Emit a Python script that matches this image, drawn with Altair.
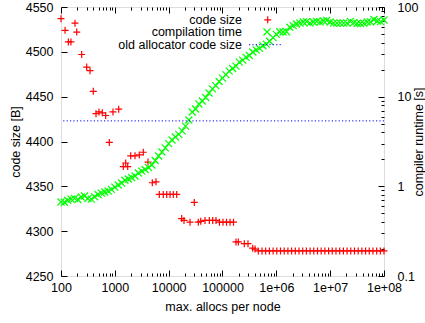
import altair as alt
import pandas as pd

FONT = "Liberation Sans"
FS = 12.5

# ---- data ----
red_x = [100, 119, 137, 153, 182, 196, 242, 300, 346, 398,
         447, 508, 585, 677, 789, 924, 1180, 1436, 1592, 1734,
         1971, 2370, 2849, 3383, 4131, 4966, 5821, 6700, 7950, 9200,
         10600, 12200, 14100, 17460, 19270, 24900, 29920, 35540, 39380, 47300,
         56900, 65800, 75700, 87900, 102200, 118700, 137900, 160200, 178200, 196700,
         254000, 297700, 363900, 401800,
         462000, 542000, 634000, 743000, 871000, 1020000, 1195000, 1400000, 1640000, 1923000,
         2250000, 2637000, 3090000, 3616000, 4236000, 4966000, 5821000, 6808000, 7980000, 9354000,
         10940000, 12820000, 15030000, 17620000, 20610000, 24150000, 28310000, 33110000, 38810000, 45500000,
         53210000, 62370000, 73110000, 85510000, 100000000]
red_y = [4537, 4524, 4511, 4511, 4532, 4522, 4497, 4483, 4479, 4456,
         4431, 4433, 4432, 4429, 4399, 4433, 4436, 4372, 4376, 4372,
         4384, 4384, 4385, 4388, 4377, 4354, 4355, 4341, 4341, 4341,
         4341, 4341, 4341, 4314, 4312, 4310, 4332, 4310, 4311, 4312,
         4312, 4312, 4312, 4310, 4310, 4310, 4310, 4310, 4288, 4288,
         4286, 4286, 4281, 4280,
         4278, 4278, 4278, 4278, 4278, 4278, 4278, 4278, 4278, 4278,
         4278, 4278, 4278, 4278, 4278, 4278, 4278, 4278, 4278, 4278,
         4278, 4278, 4278, 4278, 4278, 4278, 4278, 4278, 4278, 4278,
         4278, 4278, 4278, 4278, 4278]

green_x = [100, 115.5, 133.4, 154, 177.8, 205.4, 237.1, 273.8, 316.2, 365.2, 421.7, 487, 562.3, 649.4, 749.9, 866,
           1000, 1155, 1334, 1540, 1778, 2054, 2371, 2738, 3162, 3652, 4217, 4870, 5623, 6494, 7499, 8660,
           1.0e4, 1.155e4, 1.334e4, 1.540e4, 1.778e4, 2.054e4, 2.371e4, 2.738e4, 3.162e4, 3.652e4, 4.217e4, 4.870e4, 5.623e4, 6.494e4, 7.499e4, 8.660e4,
           1.0e5, 1.155e5, 1.334e5, 1.540e5, 1.778e5, 2.054e5, 2.371e5, 2.738e5, 3.162e5, 3.652e5, 4.217e5, 4.870e5, 5.623e5, 6.494e5, 7.499e5, 8.660e5,
           1.0e6, 1.155e6, 1.334e6, 1.540e6, 1.778e6, 2.054e6, 2.371e6, 2.738e6, 3.162e6, 3.652e6, 4.217e6, 4.870e6, 5.623e6, 6.494e6, 7.499e6, 8.660e6,
           1.0e7, 1.155e7, 1.334e7, 1.540e7, 1.778e7, 2.054e7, 2.371e7, 2.738e7, 3.162e7, 3.652e7, 4.217e7, 4.870e7, 5.623e7, 6.494e7, 7.499e7, 8.660e7,
           1.0e8]
green_y = [0.669, 0.665, 0.70, 0.72, 0.735, 0.714, 0.76, 0.78, 0.73, 0.72,
           0.766, 0.81, 0.84, 0.865, 0.887, 0.925, 0.98, 1.035, 1.09, 1.168,
           1.207, 1.255, 1.303, 1.41, 1.48, 1.54, 1.62, 1.73, 1.94, 2.18,
           2.415, 2.68, 3.0, 3.29, 3.55, 3.79, 4.15, 4.7, 5.49, 6.74,
           7.28, 8.28, 8.95, 9.8, 11.0, 12.2, 13.3, 14.75, 16.1, 17.6,
           19.3, 20.6, 21.9, 24.3, 25.6, 27.4, 28.8, 31.5, 33.3, 34.5,
           37, 38.6, 41.5, 45.5, 49.5, 53, 52.6, 53, 59.5, 62,
           64.6, 66, 68, 68.7, 66, 68, 69, 68, 69.8, 70.8,
           68, 66, 66, 66, 66, 66, 69, 67, 65.5, 65.5,
           66, 68, 68, 72.5, 69.8, 68.7, 71.6]
old_alloc = [4423]

legend_labels = ["code size", "compilation time", "old allocator code size"]
x_major = [1e2, 1e3, 1e4, 1e5, 1e6, 1e7, 1e8]
x_minor = [m * 10 ** e for e in range(2, 8) for m in range(2, 10)]
y_left_ticks = [4250, 4300, 4350, 4400, 4450, 4500, 4550]
y_right_major = [0.1, 1, 10, 100]
y_right_minor = [m * 10.0 ** e for e in range(-1, 2) for m in range(2, 10)]

red = pd.DataFrame({"x": red_x, "y": red_y})
green = pd.DataFrame({"x": green_x, "y": green_y})
old = pd.DataFrame({"y": old_alloc})
one = pd.DataFrame({"k": [0]})

PLUS = "M-1,0L1,0M0,-1L0,1"
CROSS = "M-1,-1L1,1M-1,1L1,-1"
RED, GREEN, BLUE = "#ff0000", "#00ff00", "#0000ff"
MSIZE = 49
MSW = 1.2

W, H = 323, 269


def xs():
    return alt.Scale(type="log", domain=[100, 1e8], nice=False)


def ycs():
    return alt.Scale(domain=[4250, 4550], nice=False, zero=False)


def yrt():
    return alt.Scale(type="log", domain=[0.1, 100], nice=False)


tk = dict(domain=False, grid=False, tickColor="black", tickWidth=1, labelFlush=False,
          labelOverlap=False, labelFont=FONT, labelFontSize=FS, labelColor="black",
          titleFont=FONT, titleFontSize=FS, titleColor="black", titleFontWeight="normal")

ax_x_bottom = alt.Axis(orient="bottom", values=x_major, offset=-6, tickSize=6, labelPadding=5,
                       labelExpr="datum.value < 1e6 ? format(datum.value, 'd') : '1e+0' + format(log(datum.value)/LN10, '.0f')",
                       title="max. allocs per node", titleX=W / 2, titleY=40.7, titleAlign="center",
                       titleBaseline="alphabetic", **tk)
ax_x_top = alt.Axis(orient="top", values=x_major, offset=-6, tickSize=6, labels=False, title=None, **tk)
ax_x_bottom_minor = alt.Axis(orient="bottom", values=x_minor, offset=-3, tickSize=3, labels=False, title=None, **tk)
ax_x_top_minor = alt.Axis(orient="top", values=x_minor, offset=-3, tickSize=3, labels=False, title=None, **tk)

ax_y_left = alt.Axis(orient="left", values=y_left_ticks, offset=-6, tickSize=6, labelPadding=8, format="d",
                     title="code size [B]", titleX=-52, titleY=H / 2, titleAngle=270, titleAlign="center",
                     titleBaseline="middle", **tk)
ax_y_right = alt.Axis(orient="right", values=y_right_major, offset=-6, tickSize=6, labelPadding=13,
                      labelExpr="format(datum.value, '~g')",
                      title="compiler runtime [s]", titleX=40.5, titleY=H / 2, titleAngle=270, titleAlign="center",
                      titleBaseline="middle", **tk)
ax_y_right_minor = alt.Axis(orient="right", values=y_right_minor, offset=-3, tickSize=3, labels=False, title=None, **tk)

red_layer = alt.Chart(red).mark_point(shape=PLUS, filled=False, stroke=RED, strokeWidth=MSW, size=MSIZE, opacity=1).encode(
    x=alt.X("x:Q", scale=xs(), axis=ax_x_bottom),
    y=alt.Y("y:Q", scale=ycs(), axis=ax_y_left),
)
green_layer = alt.Chart(green).mark_point(shape=CROSS, filled=False, stroke=GREEN, strokeWidth=MSW, size=MSIZE, opacity=1).encode(
    x=alt.X("x:Q", scale=xs(), axis=ax_x_top),
    y=alt.Y("y:Q", scale=yrt(), axis=ax_y_right),
)
old_layer = alt.Chart(old).mark_rule(stroke=BLUE, strokeWidth=1, strokeDash=[1.2, 2.2]).encode(
    y=alt.Y("y:Q", scale=ycs(), axis=None),
)
minor1 = alt.Chart(green).mark_point(opacity=0).encode(
    x=alt.X("x:Q", scale=xs(), axis=ax_x_bottom_minor),
    y=alt.Y("y:Q", scale=yrt(), axis=ax_y_right_minor),
)
minor2 = alt.Chart(green).mark_point(opacity=0).encode(
    x=alt.X("x:Q", scale=xs(), axis=ax_x_top_minor),
    y=alt.Y("y:Q", scale=yrt(), axis=None),
)

leg_rows = [13, 25.3, 37.6]
leg_texts = [
    alt.Chart(one).mark_text(align="right", baseline="middle", font=FONT, fontSize=FS, color="black",
                             text=lab).encode(x=alt.value(181), y=alt.value(yy))
    for lab, yy in zip(legend_labels, leg_rows)
]
leg_red = alt.Chart(one).mark_point(shape=PLUS, filled=False, stroke=RED, strokeWidth=MSW, size=MSIZE, opacity=1).encode(
    x=alt.value(206.7), y=alt.value(12.8))
leg_green = alt.Chart(one).mark_point(shape=CROSS, filled=False, stroke=GREEN, strokeWidth=MSW, size=MSIZE, opacity=1).encode(
    x=alt.value(206), y=alt.value(25))
leg_blue = alt.Chart(one).mark_rule(stroke=BLUE, strokeWidth=1, strokeDash=[1.2, 2.2]).encode(
    x=alt.value(188), x2=alt.value(222), y=alt.value(37.7))

chart = alt.layer(
    minor1, minor2, red_layer, green_layer, old_layer, *leg_texts, leg_red, leg_green, leg_blue
).resolve_scale(
    x="independent", y="independent"
).properties(
    width=W, height=H,
    padding={"left": 61, "top": 7, "right": 41, "bottom": 47},
    autosize=alt.AutoSizeParams(type="none"),
    background="white",
).configure_view(
    stroke="black", strokeWidth=1
).configure(
    font=FONT
)

chart.save("out.html", embed_options={"renderer": "svg", "actions": False})
